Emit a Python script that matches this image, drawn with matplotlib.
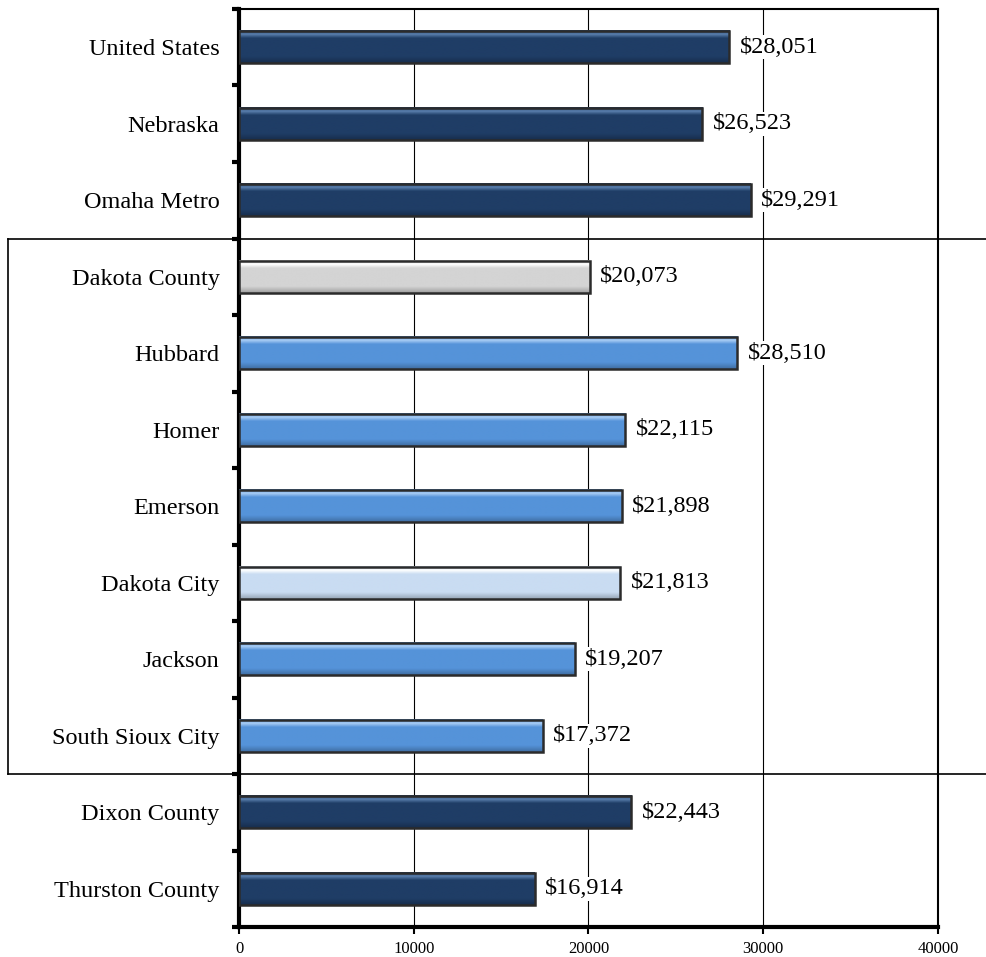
import matplotlib
matplotlib.use('Agg')
import matplotlib.pyplot as plt
from matplotlib.transforms import blended_transform_factory
import numpy as np

plt.rcParams['font.family'] = ['Liberation Serif', 'DejaVu Serif']

places = ['United States', 'Nebraska', 'Omaha Metro', 'Dakota County', 'Hubbard',
          'Homer', 'Emerson', 'Dakota City', 'Jackson', 'South Sioux City',
          'Dixon County', 'Thurston County']
income = [28051, 26523, 29291, 20073, 28510, 22115, 21898, 21813, 19207, 17372,
          22443, 16914]
kinds = ['ref', 'ref', 'ref', 'county', 'town', 'town', 'town', 'city', 'town', 'town',
         'ref', 'ref']
x_ticks = [0, 10000, 20000, 30000, 40000]

# edge colour / middle colour of each bar style
styles = {
    'ref': ('#5a7fad', '#1f3d66'),
    'town': ('#a9cdf5', '#5593d9'),
    'county': ('#ffffff', '#d4d4d4'),
    'city': ('#ffffff', '#c9dcf2'),
}

fig = plt.figure(figsize=(9.86, 9.57), dpi=100)
ax = fig.add_axes([0.2424, 0.0313, 0.7089, 0.9593])

y = np.arange(len(places))
h = 0.42
grad = np.linspace(0, 1, 60)
for yi, val, kind in zip(y, income, kinds):
    top, mid = styles[kind]
    c1 = np.array(matplotlib.colors.to_rgb(top))
    c2 = np.array(matplotlib.colors.to_rgb(mid))
    # light bevel near the top, slightly darker near the bottom
    w = np.clip(1 - np.abs(grad - 0.12) / 0.12, 0, 1)[:, None]
    d = np.clip((grad - 0.8) / 0.2, 0, 1)[:, None] * 0.25
    img = (c2 * (1 - w) + c1 * w) * (1 - d)
    img = img[:, None, :]
    ax.imshow(img, extent=[0, val, yi + h / 2, yi - h / 2], aspect='auto',
              interpolation='bilinear', zorder=3)
    ax.barh(yi, val, height=h, color='none', edgecolor='#2b2b2b', linewidth=1.8,
            zorder=4)
    ax.text(val + 600, yi, f'${val:,}', va='center', ha='left', fontsize=17.5,
            zorder=5, bbox=dict(facecolor='white', edgecolor='none', pad=1))

ax.set_xlim(0, 40000)
ax.set_ylim(len(places) - 0.5, -0.5)
ax.set_xticks(x_ticks)
ax.set_xticklabels([str(t) for t in x_ticks], fontsize=12)
ax.set_yticks(y)
ax.set_yticklabels(places, fontsize=17.5)
ax.tick_params(axis='y', length=0, pad=14)
ax.set_yticks(np.arange(len(places) + 1) - 0.5, minor=True)
ax.tick_params(axis='y', which='minor', length=5, width=3, color='black')
ax.tick_params(axis='x', length=5, width=1.5, pad=5)
ax.grid(axis='x', color='black', linewidth=0.8, zorder=0)
ax.set_axisbelow(True)

for side in ['left', 'bottom']:
    ax.spines[side].set_linewidth(3)
for side in ['top', 'right']:
    ax.spines[side].set_linewidth(1.5)

# box around the Dakota County group
tr = blended_transform_factory(fig.transFigure, ax.transData)
x0 = 8 / 986
ax.plot([x0, 1], [2.5, 2.5], transform=tr, color='black', lw=1.2, clip_on=False)
ax.plot([x0, 1], [9.5, 9.5], transform=tr, color='black', lw=1.2, clip_on=False)
ax.plot([x0, x0], [2.5, 9.5], transform=tr, color='black', lw=1.2, clip_on=False)

fig.savefig('out.png', dpi=100)
